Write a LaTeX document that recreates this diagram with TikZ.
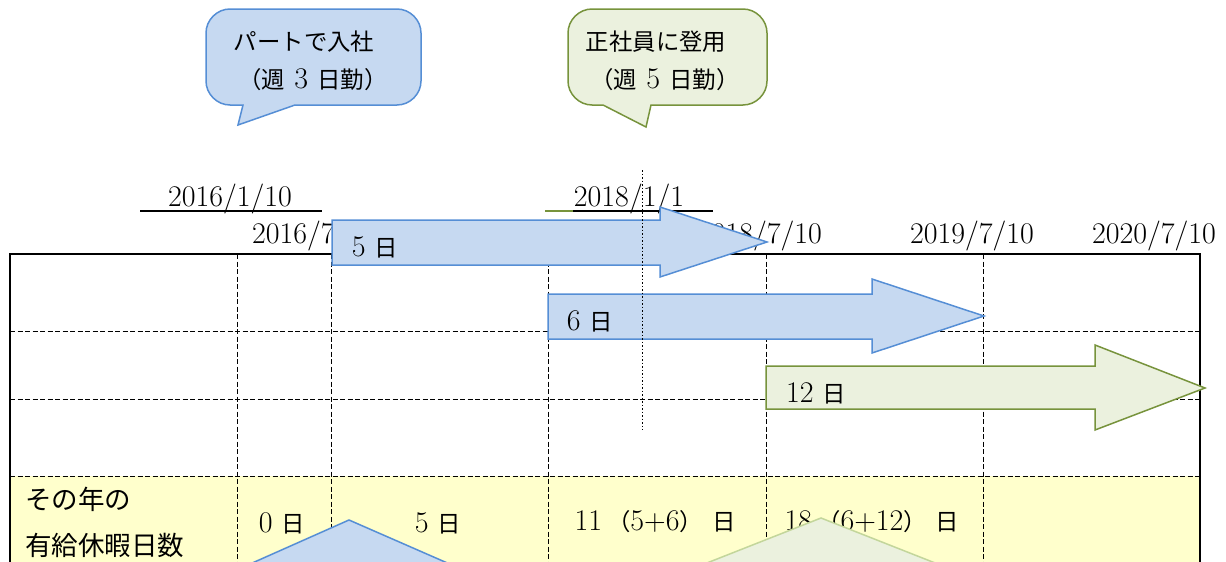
\documentclass[tikz,border=0pt]{standalone}
\usepackage{fontspec}
\newfontfamily\cjk[Scale=0.78]{Noto Sans CJK JP}
\newcommand\J[1]{{\cjk #1}}
\definecolor{bfill}{HTML}{C6D9F1}
\definecolor{bline}{HTML}{558ED5}
\definecolor{gfill}{HTML}{EBF1DE}
\definecolor{gline}{HTML}{77933C}
\definecolor{gtri}{HTML}{C3D69B}
\definecolor{yfill}{HTML}{FFFFCC}
\begin{document}
\begin{tikzpicture}[x=1pt,y=-1pt,font=\fontsize{30}{35}\selectfont,
  txt/.style={inner sep=0pt},
  gridline/.style={line width=0.9pt,dash pattern=on 5pt off 2.5pt},
  frame/.style={line width=2.4pt,line cap=rect},
  blueshape/.style={fill=bfill,draw=bline,line width=1.5pt,line join=miter},
  greenshape/.style={fill=gfill,draw=gline,line width=1.5pt,line join=miter},
  greentri/.style={fill=gfill,draw=gtri,line width=1.5pt,line join=miter},
  dateline/.style={line width=1.5pt}]
\useasboundingbox (0,0) rectangle (1226,562);
\clip (0,0) rectangle (1226,562);
% yellow row
\fill[yfill] (10,476) rectangle (1200,570);
% grid
\foreach \gx in {237,331,548,766,983} \draw[gridline] (\gx,254) -- (\gx,570);
\foreach \gy in {331,399,476} \draw[gridline] (10,\gy) -- (1200,\gy);
% frame
\draw[frame] (10,570) -- (10,254) -- (1200,254) -- (1200,570);
% date labels
\node[txt,anchor=base] (d1) at (230,206) {2016/1/10};
\node[txt,anchor=base] (d2) at (629,206) {2018/1/1};
\node[txt,anchor=base] (d3) at (314,243) {2016/7/10};
\node[txt,anchor=base] (d4) at (760,243) {2018/7/10};
\node[txt,anchor=base] (d5) at (972,243) {2019/7/10};
\node[txt,anchor=base] (d6) at (1154,243) {2020/7/10};
\draw[dateline] (140,211) -- (322,211);
\draw[dateline] (573,211) -- (713,211);
\draw[dateline,gline] (545,211) -- (573,211);
% block arrows
\draw[blueshape] (332,220) -- (660,220) -- (660,207) -- (767,242) -- (660,277) -- (660,265) -- (332,265) -- cycle;
\draw[blueshape] (548,294) -- (872,294) -- (872,279) -- (984,316) -- (872,353) -- (872,339) -- (548,339) -- cycle;
\draw[greenshape] (766,366) -- (1095,366) -- (1095,345) -- (1205,388) -- (1095,430) -- (1095,409) -- (766,409) -- cycle;
\node[txt] (a1) at (375,247) {5 \J{日}};
\node[txt] (a2) at (590,321) {6 \J{日}};
\node[txt] (a3) at (816,393) {12 \J{日}};
% dotted marker
\draw[line width=0.8pt,dash pattern=on 1.5pt off 2pt] (642,170) -- (642,430);
% bottom row texts
\node[txt,anchor=west] (r1) at (25,499) {{\cjk\fontsize{34}{40}\selectfont その年の}};
\node[txt,anchor=west] (r2) at (25,545) {{\cjk\fontsize{34}{40}\selectfont 有給休暇日数}};
\node[txt] (t0) at (282,523) {0 \J{日}};
\node[txt] (t5) at (438,523) {5 \J{日}};
\node[txt] (t11) at (655,522) {11\,\J{（}5+6\J{）} \J{日}};
\node[txt] (t18) at (872,522) {18\,\J{（}6+12\J{）} \J{日}};
% bottom triangles
\draw[blueshape] (349,520) -- (169,600) -- (532,600) -- cycle;
\draw[greentri] (821,518) -- (613,600) -- (1029,600) -- cycle;
% bubbles
\draw[blueshape] (243,105) -- (238,125) -- (295,105) -- (397,105) .. controls (410,105) and (421,94) .. (421,81) -- (421,33) .. controls (421,20) and (410,9) .. (397,9) -- (230,9) .. controls (217,9) and (206,20) .. (206,33) -- (206,81) .. controls (206,94) and (217,105) .. (230,105) -- cycle;
\node[txt] (b1a) at (304,42) {\J{パートで入社}};
\node[txt] (b1b) at (313,80) {\J{（週} 3 \J{日勤）}};
\draw[greenshape] (603,105) -- (646,127) -- (651,105) -- (743,105) .. controls (756,105) and (767,94) .. (767,81) -- (767,33) .. controls (767,20) and (756,9) .. (743,9) -- (592,9) .. controls (579,9) and (568,20) .. (568,33) -- (568,81) .. controls (568,94) and (579,105) .. (592,105) -- cycle;
\node[txt] (b2a) at (656,42) {\J{正社員に登用}};
\node[txt] (b2b) at (665,80) {\J{（週} 5 \J{日勤）}};
\end{tikzpicture}
\end{document}
